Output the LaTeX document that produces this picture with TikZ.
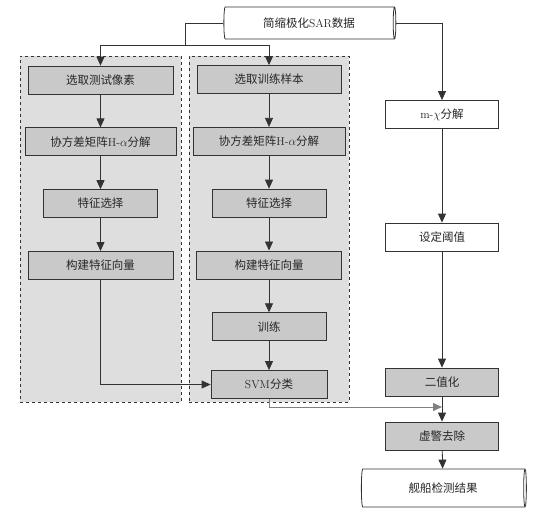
\documentclass[tikz,border=0pt]{standalone}
\usepackage{fontspec}
\newfontfamily\cjk{Noto Sans CJK SC}
\usepackage{tikz}
\usetikzlibrary{positioning, arrows.meta, shapes.geometric}
\definecolor{groupgray}{gray}{0.87}
\definecolor{boxgray}{gray}{0.79}
\definecolor{linegray}{gray}{0.2}

\begin{document}
\begin{tikzpicture}[x=1pt, y=-1pt, node distance=33pt,
  font=\fontsize{11.5}{13}\selectfont, line width=0.8pt,
  box/.style={draw=linegray, rectangle, fill=boxgray, minimum height=28pt, inner sep=2pt, text=black!85},
  plainbox/.style={box, fill=white},
  group/.style={draw=linegray, dashed, fill=groupgray, inner sep=0pt},
  store/.style={draw=linegray, cylinder, fill=white, aspect=0.25, inner sep=0pt, text=black!85},
  flow/.style={draw=linegray, -{Triangle[length=9pt, width=8pt]}}]
\useasboundingbox (0,0) rectangle (544,514);

% dashed groups behind the two columns
\node[group, minimum width=161pt, minimum height=346pt] (testgroup) at (100.5,229) {};
\node[group, minimum width=160pt, minimum height=346pt] (traingroup) at (269,229) {};

\node[store, minimum height=172pt, minimum width=32pt] (data) at (309,23) {{\cjk 简缩极化}SAR{\cjk 数据}};

% test column
\node[box, minimum width=145pt] (test) at (100.5,80) {\cjk 选取测试像素};
\node[box, minimum width=151pt, below=of test] (cov1) {{\cjk 协方差矩阵}H-$\alpha${\cjk 分解}};
\node[box, minimum width=114pt, below=of cov1] (feat1) {\cjk 特征选择};
\node[box, minimum width=145pt, below=of feat1] (vec1) {\cjk 构建特征向量};

% training column
\node[box, minimum width=144pt] (train) at (269,79.5) {\cjk 选取训练样本};
\node[box, minimum width=152pt, below=of train] (cov2) {{\cjk 协方差矩阵}H-$\alpha${\cjk 分解}};
\node[box, minimum width=114pt, below=of cov2] (feat2) {\cjk 特征选择};
\node[box, minimum width=145pt, below=of feat2] (vec2) {\cjk 构建特征向量};
\node[box, minimum width=114pt, below=of vec2] (learn) {\cjk 训练};
\node[box, minimum width=116pt, below=29pt of learn] (svm) {SVM{\cjk 分类}};

% m-chi column
\node[plainbox, minimum width=113pt] (mchi) at (442,114.5) {m-$\chi${\cjk 分解}};
\node[plainbox, minimum width=113pt] (thresh) at (442,237) {\cjk 设定阈值};
\node[box, minimum width=113pt] (binar) at (442,382) {\cjk 二值化};
\node[box, minimum width=113pt] (alarm) at (442,436) {\cjk 虚警去除};
\node[store, minimum height=165pt, minimum width=38pt] (result) at (443,488) {\cjk 舰船检测结果};

\coordinate (split) at (185,45);
\coordinate (merge) at (442,407);

\draw[linegray] (data.west) -| (split);
\draw[flow] (split) -| (test.north);
\draw[flow] (split) -| (train.north);
\draw[flow] (data.east) -| (mchi.north);

\draw[flow] (test) -- (cov1);
\draw[flow] (cov1) -- (feat1);
\draw[flow] (feat1) -- (vec1);
\draw[flow] (vec1.south) |- (svm.west);

\draw[flow] (train) -- (cov2);
\draw[flow] (cov2) -- (feat2);
\draw[flow] (feat2) -- (vec2);
\draw[flow] (vec2) -- (learn);
\draw[flow] (learn) -- (svm);
\draw[flow, draw=gray, line width=1pt] (svm.south) |- (merge);

\draw[flow] (mchi) -- (thresh);
\draw[flow] (thresh) -- (binar);
\draw[flow] (binar) -- (alarm);
\draw[flow] (alarm) -- (result);
\end{tikzpicture}
\end{document}
